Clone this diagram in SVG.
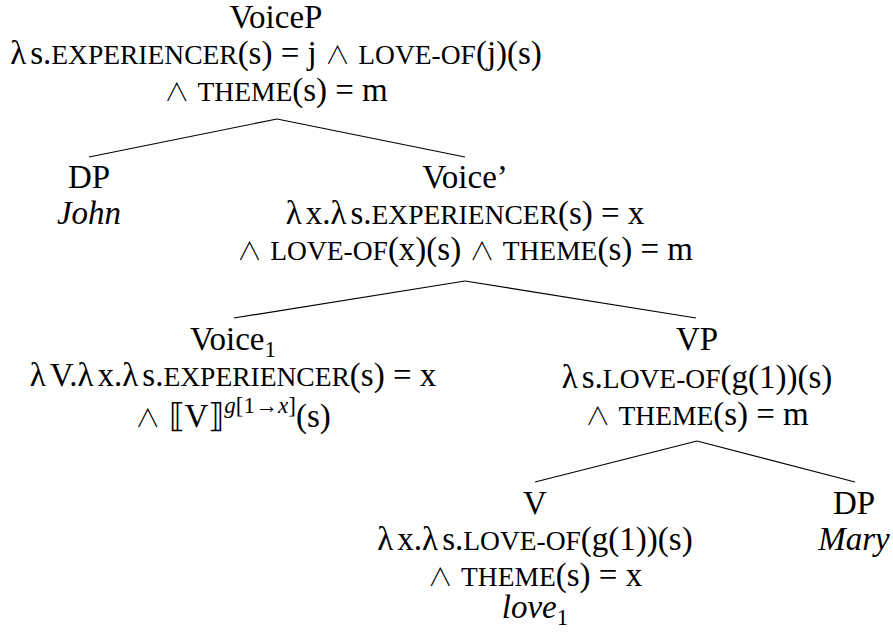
<svg xmlns="http://www.w3.org/2000/svg" width="893" height="637" viewBox="0 0 893 637">
<style>
text{font-family:"Liberation Serif","DejaVu Serif",serif;font-size:33px;fill:#000;text-anchor:middle}
.sc{font-size:27.5px}
.it{font-style:italic}
.w{font-family:"Noto Sans CJK JP","DejaVu Sans",sans-serif;font-weight:300;font-size:25px}
.sub{font-size:23px}
.sup{font-size:23px}
.conn line{stroke:#000;stroke-width:1.2}
</style>
<rect width="893" height="637" fill="#fff"/>
<g class="conn" id="connectors">
<line x1="277" y1="119" x2="89" y2="157"/>
<line x1="277" y1="119" x2="465" y2="157"/>
<line x1="465" y1="281" x2="234" y2="318"/>
<line x1="465" y1="281" x2="696" y2="318"/>
<line x1="697" y1="441" x2="535" y2="482"/>
<line x1="697" y1="441" x2="855" y2="482"/>
</g>
<g id="voiceP">
<text x="276" y="28">VoiceP</text>
<text x="276" y="64">λ<tspan dx="4">s.</tspan><tspan class="sc">EXPERIENCER</tspan>(s) = j <tspan class="w">∧</tspan> <tspan class="sc">LOVE-OF</tspan>(j)(s)</text>
<text x="276" y="101"><tspan class="w">∧</tspan> <tspan class="sc">THEME</tspan>(s) = m</text>
</g>
<g id="dp-john">
<text x="89" y="188">DP</text>
<text x="89" y="224" class="it">John</text>
</g>
<g id="voice-bar">
<text x="465" y="188">Voice’</text>
<text x="465" y="224">λ<tspan dx="4">x.</tspan>λ<tspan dx="4">s.</tspan><tspan class="sc">EXPERIENCER</tspan>(s) = x</text>
<text x="465" y="260"><tspan class="w">∧</tspan> <tspan class="sc">LOVE-OF</tspan>(x)(s) <tspan class="w">∧</tspan> <tspan class="sc">THEME</tspan>(s) = m</text>
</g>
<g id="voice1">
<text x="233" y="350">Voice<tspan class="sub" dy="7">1</tspan></text>
<text x="233" y="386">λ<tspan dx="4">V.</tspan>λ<tspan dx="4">x.</tspan>λ<tspan dx="4">s.</tspan><tspan class="sc">EXPERIENCER</tspan>(s) = x</text>
<text x="233" y="427"><tspan class="w">∧</tspan> ⟦V⟧<tspan class="sup" dy="-14"><tspan class="it">g</tspan>[1→<tspan class="it">x</tspan>]</tspan><tspan dy="14">(s)</tspan></text>
</g>
<g id="vp">
<text x="697" y="350">VP</text>
<text x="697" y="388">λ<tspan dx="4">s.</tspan><tspan class="sc">LOVE-OF</tspan>(g(1))(s)</text>
<text x="697" y="425"><tspan class="w">∧</tspan> <tspan class="sc">THEME</tspan>(s) = m</text>
</g>
<g id="v">
<text x="535" y="514">V</text>
<text x="535" y="550">λ<tspan dx="4">x.</tspan>λ<tspan dx="4">s.</tspan><tspan class="sc">LOVE-OF</tspan>(g(1))(s)</text>
<text x="535" y="586"><tspan class="w">∧</tspan> <tspan class="sc">THEME</tspan>(s) = x</text>
<text x="535" y="618"><tspan class="it">love</tspan><tspan class="sub" dy="7">1</tspan></text>
</g>
<g id="dp-mary">
<text x="854" y="514">DP</text>
<text x="854" y="550" class="it">Mary</text>
</g>
</svg>
